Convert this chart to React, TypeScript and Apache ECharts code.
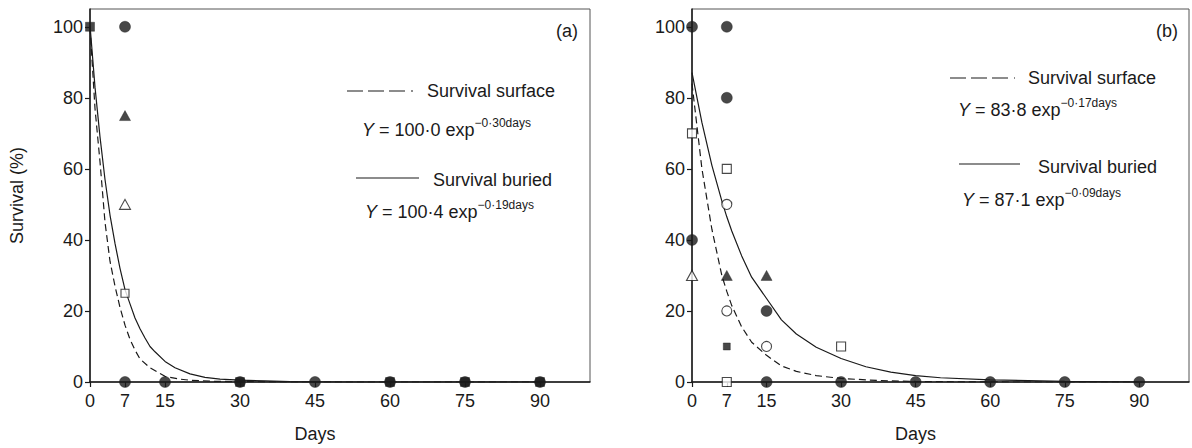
import React, { useEffect, useRef } from "react";
import * as echarts from "echarts";

// ---------- data ----------
const xTickDays = [0, 7, 15, 30, 45, 60, 75, 90];
const yTicks = [0, 20, 40, 60, 80, 100];

// Panel (a) fitted curves
const aSurfaceCurve = [
  [0, 100], [1, 77], [2, 62], [3, 45], [4, 34], [5, 27], [6, 21], [7, 16], [8, 12],
  [9, 9], [10, 6.5], [12, 4], [15, 1.6], [18, 0.8], [20, 0.5], [25, 0.2], [30, 0.1], [40, 0], [90, 0],
];
const aBuriedCurve = [
  [0, 100.4], [1, 83], [2, 69], [3, 57], [4, 47], [5, 39], [6, 32], [7, 26], [8, 22],
  [9, 18], [10, 15], [11, 12.4], [12, 10], [13, 8.5], [15, 5.8], [17, 4], [20, 2.3],
  [23, 1.3], [26, 0.8], [30, 0.5], [35, 0.3], [40, 0.1], [50, 0], [90, 0],
];
const aFilledCircle = [[7, 100], [7, 0], [15, 0], [30, 0], [45, 0], [60, 0], [75, 0], [90, 0]];
const aFilledSquare = [[0, 100], [30, 0], [60, 0], [75, 0], [90, 0]];
const aFilledTriangle = [[7, 75]];
const aOpenTriangle = [[7, 50]];
const aOpenSquare = [[7, 25]];

// Panel (b) fitted curves
const bSurfaceCurve = [
  [0, 84], [2, 60], [4, 43], [6, 30], [7, 25.5], [8, 21.5], [10, 15.5], [12, 11.2],
  [15, 7.5], [18, 4.5], [21, 3], [25, 1.8], [30, 1], [35, 0.6], [40, 0.3], [45, 0.15], [55, 0.05], [65, 0], [90, 0],
];
const bBuriedCurve = [
  [0, 87.1], [2, 73], [4, 61], [6, 51], [7, 46.5], [8, 42.5], [10, 35.5], [12, 29.5],
  [15, 23.5], [18, 17.5], [21, 13.5], [25, 9.8], [30, 6.6], [35, 4.3], [40, 2.8],
  [45, 1.8], [50, 1.2], [60, 0.6], [75, 0.2], [90, 0],
];
const bFilledCircle = [
  [0, 100], [0, 40], [7, 100], [7, 80], [15, 20], [15, 0], [30, 0], [45, 0], [60, 0], [75, 0], [90, 0],
];
const bOpenCircle = [[7, 50], [7, 20], [15, 10]];
const bFilledTriangle = [[7, 30], [15, 30]];
const bOpenTriangle = [[0, 30]];
const bFilledSquare = [[7, 10]];
const bOpenSquare = [[0, 70], [7, 60], [7, 0], [30, 10]];

// ---------- texts ----------
const panelLabels = ["(a)", "(b)"];
const surfaceLabel = "Survival surface";
const buriedLabel = "Survival buried";
const aSurfaceEq = ["100·0", "−0·30days"];
const aBuriedEq = ["100·4", "−0·19days"];
const bSurfaceEq = ["83·8", "−0·17days"];
const bBuriedEq = ["87·1", "−0·09days"];
const xName = "Days";
const yName = "Survival (%)";

const FONT = "'Liberation Sans', Arial, Helvetica, sans-serif";
const INK = "#1a1a1a";

function scatter(data: number[][], grid: number, symbol: string, size: number | number[], filled: boolean) {
  return {
    type: "scatter",
    xAxisIndex: grid,
    yAxisIndex: grid,
    data,
    symbol,
    symbolSize: size,
    z: 5,
    itemStyle: filled
      ? { color: INK, borderColor: INK, borderWidth: 0.5 }
      : { color: "#fff", borderColor: INK, borderWidth: 1.1 },
  };
}

function curve(data: number[][], grid: number, dashed: boolean) {
  return {
    type: "line",
    xAxisIndex: grid,
    yAxisIndex: grid,
    data,
    showSymbol: false,
    symbol: "none",
    smooth: false,
    z: 3,
    lineStyle: { color: INK, width: 1.2, type: dashed ? [7, 4] : "solid" },
  };
}

function eqText(x: number, y: number, eq: string[]) {
  return {
    type: "text",
    x,
    y,
    style: {
      text: `{it|Y}{n| = ${eq[0]} exp}{sup|${eq[1]}}`,
      textVerticalAlign: "middle",
      textAlign: "left",
      fill: INK,
      fontFamily: FONT,
      fontSize: 18,
      rich: {
        it: { fontStyle: "italic", fontSize: 18, fontFamily: FONT, lineHeight: 26, verticalAlign: "middle", fill: INK },
        n: { fontSize: 18, fontFamily: FONT, lineHeight: 26, verticalAlign: "middle", fill: INK },
        sup: { fontSize: 12, fontFamily: FONT, lineHeight: 12, verticalAlign: "top", fill: INK },
      },
    },
  };
}

function plainText(x: number, y: number, text: string, align = "left") {
  return {
    type: "text",
    x,
    y,
    style: { text, fill: INK, fontFamily: FONT, fontSize: 18, textAlign: align, textVerticalAlign: "middle" },
  };
}

function legendLine(x1: number, x2: number, y: number, dashed: boolean) {
  return {
    type: "line",
    shape: { x1, y1: y, x2, y2: y },
    style: { stroke: INK, lineWidth: 1.2, lineDash: dashed ? [16, 5, 16, 5, 16, 6, 2, 40] : null },
  };
}

function xAxis(grid: number) {
  return {
    type: "value",
    gridIndex: grid,
    min: 0,
    max: 100,
    axisLine: { show: true, onZero: false, lineStyle: { color: INK, width: 1.5 } },
    axisTick: { show: true, customValues: xTickDays, length: 5, lineStyle: { color: INK, width: 1.2 } },
    axisLabel: { customValues: xTickDays, fontSize: 18, color: INK, fontFamily: FONT, margin: 10 },
    splitLine: { show: false },
    name: xName,
    nameLocation: "middle",
    nameGap: 43,
    nameTextStyle: { fontSize: 18, color: INK, fontFamily: FONT, padding: [0, 50, 0, 0] },
  };
}

function yAxis(grid: number) {
  return {
    type: "value",
    gridIndex: grid,
    min: 0,
    max: 105,
    axisLine: { show: true, onZero: false, lineStyle: { color: INK, width: 1.5 } },
    axisTick: { show: true, customValues: yTicks, length: 5, lineStyle: { color: INK, width: 1.2 } },
    axisLabel: { customValues: yTicks, fontSize: 18, color: INK, fontFamily: FONT, margin: 7 },
    splitLine: { show: false },
    name: grid === 0 ? yName : "",
    nameLocation: "middle",
    nameGap: 64,
    nameTextStyle: { fontSize: 18, color: INK, fontFamily: FONT },
  };
}

export default function App() {
  const ref = useRef<HTMLDivElement>(null);
  useEffect(() => {
    if (!ref.current) return;
    const chart = echarts.init(ref.current, null, { renderer: "svg" });
    chart.setOption({
      animation: false,
      backgroundColor: "#fff",
      grid: [
        { left: 90, top: 9, width: 500, height: 377, show: true, borderColor: "#555", borderWidth: 1, backgroundColor: "transparent" },
        { left: 692, top: 9, width: 497, height: 377, show: true, borderColor: "#555", borderWidth: 1, backgroundColor: "transparent" },
      ],
      xAxis: [xAxis(0), xAxis(1)],
      yAxis: [yAxis(0), yAxis(1)],
      series: [
        curve(aSurfaceCurve, 0, true),
        curve(aBuriedCurve, 0, false),
        scatter(aFilledSquare, 0, "rect", 9, true),
        scatter(aFilledCircle, 0, "circle", 11, true),
        scatter(aFilledTriangle, 0, "triangle", [11, 10], true),
        scatter(aOpenTriangle, 0, "triangle", [11, 10], false),
        scatter(aOpenSquare, 0, "rect", 8, false),
        curve(bSurfaceCurve, 1, true),
        curve(bBuriedCurve, 1, false),
        scatter(bFilledCircle, 1, "circle", 11, true),
        scatter(bOpenCircle, 1, "circle", 10, false),
        scatter(bFilledTriangle, 1, "triangle", [11, 10], true),
        scatter(bOpenTriangle, 1, "triangle", [11, 10], false),
        scatter(bFilledSquare, 1, "rect", 7, true),
        scatter(bOpenSquare, 1, "rect", 9, false),
      ],
      graphic: [
        plainText(578, 31, panelLabels[0], "right"),
        legendLine(347, 415, 91, true),
        plainText(427, 91, surfaceLabel),
        eqText(362, 130, aSurfaceEq),
        legendLine(356, 419, 178, false),
        plainText(433, 180, buriedLabel),
        eqText(365, 212, aBuriedEq),
        plainText(1178, 31, panelLabels[1], "right"),
        legendLine(950, 1015, 78, true),
        plainText(1028, 78, surfaceLabel),
        eqText(958, 110, bSurfaceEq),
        legendLine(959, 1020, 164, false),
        plainText(1038, 167, buriedLabel),
        eqText(962, 200, bBuriedEq),
      ],
    });
    return () => chart.dispose();
  }, []);
  return (
    <div
      ref={ref}
      style={{ position: "absolute", left: 0, top: 0, width: 1192, height: 448, background: "#fff" }}
    />
  );
}
